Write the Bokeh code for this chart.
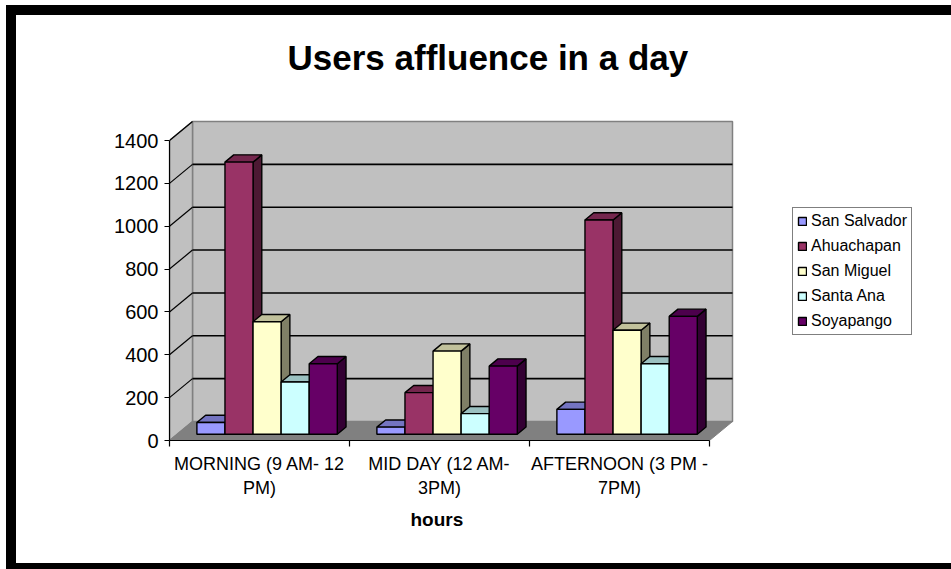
from bokeh.plotting import figure
from bokeh.models import FixedTicker, Legend, LegendItem, Title
from bokeh.embed import file_html
from bokeh.resources import INLINE

# ---- data -------------------------------------------------------------
periods = ["MORNING (9 AM- 12\nPM)", "MID DAY (12 AM-\n3PM)", "AFTERNOON (3 PM -\n7PM)"]
cities = ["San Salvador", "Ahuachapan", "San Miguel", "Santa Ana", "Soyapango"]
san_salvador = [55, 33, 116]
ahuachapan = [1270, 194, 1000]
san_miguel = [525, 388, 485]
santa_ana = [244, 96, 329]
soyapango = [329, 318, 550]
y_ticks = [0, 200, 400, 600, 800, 1000, 1200, 1400]
y_max = 1400

series = [san_salvador, ahuachapan, san_miguel, santa_ana, soyapango]
front_colors = ["#9999FF", "#993366", "#FFFFCC", "#CCFFFF", "#660066"]

# ---- 3-D projection settings (oblique view) ---------------------------
PX_PER_CAT = 180.0            # pixels per category on the front plane
PX_PER_UNIT = 300.0 / 1400.0  # pixels per user on the value axis
DX = 23.0 / PX_PER_CAT        # full depth shift, in category units
DY = 19.0 / PX_PER_UNIT       # full depth shift, in value units
D0, D1 = 0.33, 0.71           # depth slice occupied by the columns
GAP = 0.11                    # free space at each side of a category
BW = (1.0 - 2 * GAP) / len(cities)

# canvas (the CSS border sits on top of its right/bottom margins)
CANVAS_W, CANVAS_H = 945, 564
B_LEFT, B_TOP = 153, 80
FRAME_W, FRAME_H = 782, 345   # frame also hosts the legend on the right
x_end = FRAME_W / PX_PER_CAT
y_end = FRAME_H / PX_PER_UNIT
n_cat = len(periods)

FONT = "Liberation Sans"


def shade(hex_color, f):
    h = hex_color.lstrip("#")
    r, g, b = (int(h[i:i + 2], 16) for i in (0, 2, 4))
    return "#%02x%02x%02x" % (int(r * f), int(g * f), int(b * f))


def proj(x, y, d):
    return x + d * DX, y + d * DY


p = figure(width=CANVAS_W, height=CANVAS_H,
           x_range=(0, x_end), y_range=(0, y_end),
           output_backend="svg", toolbar_location=None,
           min_border_left=B_LEFT, min_border_right=CANVAS_W - B_LEFT - FRAME_W,
           min_border_top=B_TOP, min_border_bottom=CANVAS_H - B_TOP - FRAME_H,
           title="Users affluence in a day")
p.styles = {"margin-left": "6px", "margin-top": "5px",
            "border-left": "10px solid black", "border-top": "10px solid black",
            "border-bottom": "6px solid black"}
p.outline_line_color = None
p.background_fill_color = "white"
p.border_fill_color = "white"
p.xgrid.visible = False
p.ygrid.visible = False

p.title.text_font = FONT
p.title.text_font_size = "35px"
p.title.text_font_style = "bold"
p.title.text_color = "black"
p.title.align = "left"
p.title.offset = 118
p.title.standoff = 38

# ---- walls and floor ---------------------------------------------------
wall_fill, wall_edge = "#C0C0C0", "#808080"
p.quad(left=[DX], right=[n_cat + DX], bottom=[DY], top=[y_max + DY],
       fill_color=wall_fill, line_color=wall_edge, line_width=1.5)
lw_x = [0, 0, DX, DX]
lw_y = [0, y_max, y_max + DY, DY]
p.patch(lw_x, lw_y, fill_color=wall_fill, line_color=wall_edge, line_width=1.5)
fl_x = [0, n_cat, n_cat + DX, DX]
fl_y = [0, 0, DY, DY]
p.patch(fl_x, fl_y, fill_color="#808080", line_color="#808080", line_width=1)

grid_vals = [v for v in y_ticks if 0 < v < y_max]
p.multi_line(xs=[[DX, n_cat + DX] for v in grid_vals],
             ys=[[v + DY, v + DY] for v in grid_vals],
             line_color="black", line_width=1.6)
p.multi_line(xs=[[0, DX] for v in y_ticks[1:]],
             ys=[[v, v + DY] for v in y_ticks[1:]],
             line_color="black", line_width=1.2)

# ---- columns -----------------------------------------------------------
legend_items = []
for i, (name, vals, col) in enumerate(zip(cities, series, front_colors)):
    lefts = [c + GAP + i * BW for c in range(n_cat)]
    side_xs, side_ys, top_xs, top_ys = [], [], [], []
    for xl, v in zip(lefts, vals):
        xr = xl + BW
        pts = [proj(xr, 0, D0), proj(xr, 0, D1), proj(xr, v, D1), proj(xr, v, D0)]
        side_xs.append([q[0] for q in pts])
        side_ys.append([q[1] for q in pts])
        pts = [proj(xl, v, D0), proj(xr, v, D0), proj(xr, v, D1), proj(xl, v, D1)]
        top_xs.append([q[0] for q in pts])
        top_ys.append([q[1] for q in pts])
    p.patches(side_xs, side_ys, fill_color=shade(col, 0.5),
              line_color="black", line_width=1.4)
    p.patches(top_xs, top_ys, fill_color=shade(col, 0.76),
              line_color="black", line_width=1.4)
    fr = p.quad(left=[x + D0 * DX for x in lefts],
                right=[x + BW + D0 * DX for x in lefts],
                bottom=[D0 * DY] * n_cat,
                top=[v + D0 * DY for v in vals],
                fill_color=col, line_color="black", line_width=1.4)
    legend_items.append(LegendItem(label=name, renderers=[fr]))

# ---- axes --------------------------------------------------------------
xa = p.xaxis[0]
xa.bounds = (0, n_cat)
xa.ticker = FixedTicker(ticks=[c + 0.5 for c in range(n_cat)],
                        minor_ticks=list(range(n_cat + 1)))
xa.major_label_overrides = {c + 0.5: lab for c, lab in enumerate(periods)}
xa.major_tick_line_color = None
xa.major_tick_out = 6
xa.major_tick_in = 0
xa.minor_tick_out = 6
xa.minor_tick_in = 0
xa.minor_tick_line_color = "black"
xa.minor_tick_line_width = 1.2
xa.major_label_standoff = 7
xa.major_label_text_font = FONT
xa.major_label_text_font_size = "18px"
xa.major_label_text_color = "black"
xa.axis_line_color = "black"
xa.axis_line_width = 1.2

# axis title, placed under the category labels
hours = Title(text="hours", align="left", offset=241, standoff=12,
              text_font=FONT, text_font_size="19px", text_font_style="bold",
              text_color="black")
p.add_layout(hours, "below")

ya = p.yaxis[0]
ya.bounds = (0, y_max)
ya.ticker = FixedTicker(ticks=y_ticks)
ya.minor_tick_line_color = None
ya.major_tick_out = 5
ya.major_tick_in = 0
ya.major_tick_line_width = 1.2
ya.major_label_standoff = 6
ya.major_label_text_font = FONT
ya.major_label_text_font_size = "20px"
ya.major_label_text_color = "black"
ya.axis_line_color = "black"
ya.axis_line_width = 1.2

# ---- legend (offsets from the frame's bottom-left corner) --------------
legend = Legend(items=legend_items, location=(623, 105), margin=0, padding=4,
                spacing=7, glyph_width=10, glyph_height=10, label_height=18,
                label_standoff=4, label_text_font=FONT,
                label_text_font_size="16px", label_text_color="black",
                border_line_color="black", border_line_width=1.4,
                background_fill_color="white", background_fill_alpha=1)
p.add_layout(legend, "center")

open("out.html", "w").write(file_html(p, INLINE))
